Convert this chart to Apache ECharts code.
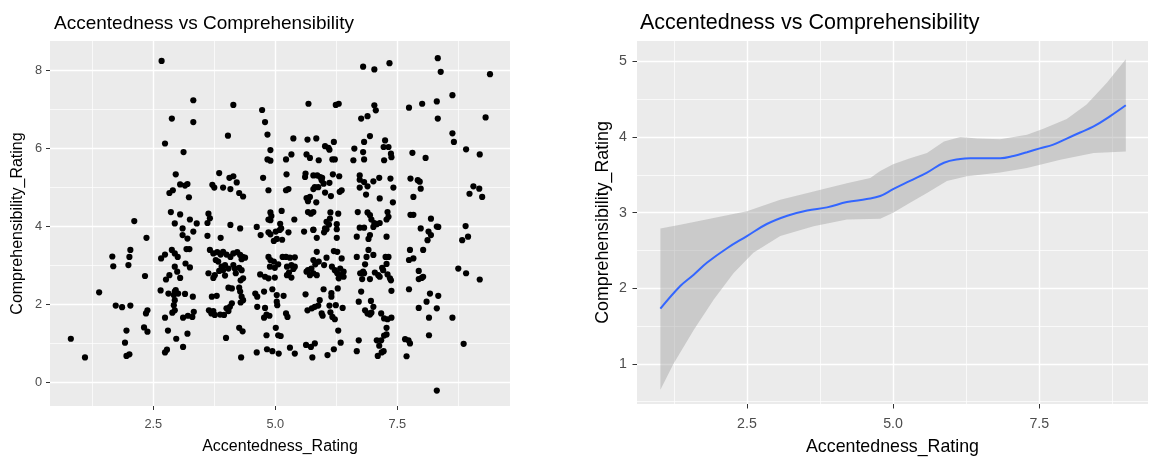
<!DOCTYPE html>
<html>
<head>
<meta charset="utf-8">
<script src="https://cdn.jsdelivr.net/npm/echarts@6/dist/echarts.min.js"></script>
<style>
html,body{margin:0;padding:0;background:#fff;}
#c{width:1149px;height:457px;}
</style>
</head>
<body>
<div id="c"></div>
<script>
const titleText = 'Accentedness vs Comprehensibility';
const xName = 'Accentedness_Rating';
const yName = 'Comprehensibility_Rating';
const xTicks = [2.5, 5.0, 7.5];
const xMinor = [1.25, 3.75, 6.25, 8.75];
const leftYTicks = [0, 2, 4, 6, 8];
const leftYMinor = [1, 3, 5, 7];
const rightYTicks = [1, 2, 3, 4, 5];
const rightYMinor = [0.5, 1.5, 2.5, 3.5, 4.5];

// scatter: [Accentedness_Rating, Comprehensibility_Rating]
const scatterPoints = [
[2.67,8.24],[3.32,7.23],[2.88,6.76],[3.32,6.67],[2.74,6.12],[3.12,5.9],[2.96,5.33],[3.05,5.07],[3.15,5.04],[3.2,5.08],[2.83,4.85],[2.9,4.92],[3.23,4.74],[2.86,4.36],[3.05,4.3],[2.11,4.13],[3.25,4.17],[3.39,4.07],[2.94,4.07],[3.1,3.94],
[4.14,7.11],[4.73,6.98],[4.79,6.67],[4.03,6.32],[4.84,6.35],[5.68,7.14],[6.24,7.11],[6.3,7.14],[5.37,6.25],[5.66,6.22],[5.84,6.25],[4.9,5.95],[5.33,5.84],[5.22,5.71],[4.84,5.71],[4.9,5.68],[5.64,5.84],[5.71,5.75],[5.89,5.69],[6.02,6.05],[6.09,6.01],[6.11,5.96],[6.2,6.16],[6.17,5.71],[6.22,5.71],[6.62,5.99],[6.6,5.69],[3.85,5.36],[4.06,5.24],[4.14,5.28],[4.21,5.12],[3.71,5.06],[3.75,4.99],[3.93,4.99],[4.08,4.95],[4.26,4.85],[4.34,4.76],[4.75,5.24],[4.86,4.92],[5.23,5.33],[5.22,4.92],[5.27,4.95],[5.61,5.26],[5.62,5.35],[5.78,5.3],[5.86,5.3],[5.92,5.26],[5.96,5.24],[5.81,5.0],[5.78,4.95],[5.88,5.0],[5.99,5.09],[5.95,5.18],[6.11,5.11],[6.18,5.33],[6.31,5.28],[6.02,4.86],[6.14,4.77],[6.36,4.92],[6.32,4.88],[5.64,4.72],[5.67,4.64],[5.71,4.75],[5.84,4.61],[5.67,4.36],[5.73,4.32],[5.78,4.36],[5.13,4.39],[4.9,4.35],[4.92,4.26],[4.86,4.17],[4.9,4.15],[5.39,4.17],[6.13,4.35],[6.29,4.32],[6.12,4.19],[6.05,4.11],[6.1,4.04],[6.26,4.05],[6.69,4.36],[3.63,4.32],[3.61,4.08],[3.66,4.2],[4.08,4.03],[4.28,3.94],[4.62,3.98],[5.1,4.06],[5.12,3.94],[5.78,3.91],[6.02,3.94],
[6.8,8.09],[7.03,8.02],[7.34,8.18],[8.33,8.31],[8.39,7.96],[9.4,7.9],[8.63,7.36],[8.31,7.2],[8.01,7.14],[7.74,7.04],[7.03,7.1],[7.06,6.97],[6.76,6.76],[6.89,6.82],[8.33,6.76],[9.31,6.79],[8.63,6.38],[8.66,6.16],[6.94,6.31],[6.82,6.16],[7.25,6.2],[7.22,6.03],[7.32,6.03],[7.37,5.86],[7.38,5.77],[6.8,5.9],[6.82,5.71],[7.23,5.69],[7.81,5.88],[8.08,5.75],[8.91,5.97],[9.19,5.84],[6.73,5.3],[6.73,5.19],[6.82,5.13],[6.89,5.02],[7.01,5.15],[6.73,4.99],[7.13,5.24],[7.36,5.22],[7.42,4.99],[6.86,4.81],[7.14,4.71],[7.41,4.61],[7.77,5.22],[7.92,5.18],[7.96,5.14],[7.98,4.96],[7.83,4.75],[9.06,5.02],[9.18,4.96],[8.98,4.83],[9.24,4.75],[6.89,4.35],[6.94,4.28],[6.97,4.17],[7.03,4.08],[7.08,4.05],[7.14,4.08],[7.01,3.98],[7.3,4.36],[7.32,4.24],[7.28,4.17],[7.77,4.29],[7.83,4.29],[8.19,4.19],[8.31,3.99],[8.34,3.98],[7.98,3.94],[8.9,4.0],[6.73,3.96],[6.82,3.96],
[2.36,3.7],[2.03,3.39],[2.01,3.21],[1.99,3.0],[1.66,3.22],[1.68,2.97],[2.33,2.72],[1.39,2.3],[1.73,1.96],[1.86,1.92],[2.03,1.96],[1.95,1.32],[1.92,1.01],[1.95,0.67],[2.01,0.71],[0.81,1.11],[1.1,0.63],[2.38,1.84],[2.35,1.76],[2.31,1.4],[2.38,1.29],[2.74,1.65],[2.8,1.32],[2.74,0.76],[2.78,0.83],[2.97,1.11],[3.11,0.9],[3.2,1.24],[2.65,2.35],[2.81,2.27],[2.94,2.32],[2.96,2.36],[2.92,2.23],[3.01,2.27],[3.15,2.26],[3.31,2.19],[2.94,2.1],[2.92,1.97],[2.89,1.78],[2.94,1.84],[3.11,1.65],[3.21,1.7],[3.3,1.67],[3.33,1.8],[2.76,2.63],[2.83,2.74],[2.94,2.96],[2.99,2.83],[3.05,2.67],[3.16,3.04],[3.25,2.94],[2.66,3.17],[2.74,3.27],[2.88,3.39],[2.94,3.3],[3.0,3.21],[3.18,3.41],[3.24,3.41],[3.1,3.77],[3.2,3.68],[3.32,3.86],
[3.61,3.75],[3.88,3.7],[4.7,3.77],[4.86,3.84],[4.9,3.79],[5.01,3.86],[5.09,3.9],[4.97,3.62],[5.03,3.67],[5.14,3.65],[5.27,3.84],[5.59,3.86],[5.78,3.9],[5.85,3.7],[6.0,3.84],[6.05,3.92],[6.26,3.7],[6.26,3.92],[6.67,3.73],
[3.66,3.39],[3.73,3.3],[3.81,3.33],[3.88,3.27],[3.93,3.34],[4.0,3.27],[4.08,3.21],[4.14,3.3],[4.22,3.33],[4.28,3.26],[4.33,3.21],[4.38,3.19],[4.31,3.15],[3.78,3.13],[3.83,3.09],
[3.9,2.96],[3.97,3.0],[4.04,2.91],[4.14,3.0],[4.17,2.91],[4.26,2.93],[3.85,2.85],[3.93,2.87],[4.31,2.87],
[3.63,2.79],[3.76,2.74],[3.73,2.67],[3.97,2.73],[4.19,2.79],[4.34,2.66],[4.29,2.61],
[4.86,3.21],[4.9,3.13],[4.97,3.09],[4.89,2.96],[4.99,2.93],[5.06,3.02],[5.15,3.21],[5.22,3.21],[5.3,3.19],[5.4,3.2],[5.33,3.0],[5.4,2.96],[5.24,2.96],[5.37,2.9],[5.28,2.81],[5.24,2.74],[5.33,2.68],
[4.69,2.76],[4.79,2.7],[4.86,2.66],[4.99,2.68],
[5.85,3.34],[5.89,3.09],[5.78,3.13],[5.82,3.02],[6.05,3.19],[6.0,3.0],[6.16,2.96],[6.22,2.87],[6.33,2.91],[6.36,3.17],[6.2,3.36],[6.27,3.34],[5.64,2.83],[5.71,2.74],[5.78,2.79],[5.85,2.74],[5.67,2.87],[5.74,2.91],
[6.27,2.79],[6.33,2.74],[6.4,2.7],[6.3,2.66],[6.4,2.83],[6.67,3.21],[6.74,2.79],
[4.04,2.42],[4.11,2.4],[4.26,2.42],[4.28,2.32],
[3.7,2.19],[3.8,2.21],[4.31,2.19],[4.34,2.1],[4.29,2.04],[4.11,2.02],[4.07,1.93],
[3.64,1.84],[3.69,1.76],[3.76,1.72],[3.73,1.82],[3.87,1.73],[3.95,1.72],[4.04,1.82],[4.0,1.89],
[4.59,2.27],[4.63,2.19],[4.77,2.32],[5.03,2.23],[5.17,2.21],[4.94,2.38],[5.03,2.06],[5.04,1.97],
[4.63,1.93],[4.79,1.9],[4.82,1.73],[4.77,1.65],[4.88,1.7],[5.22,1.76],[5.25,1.67],
[5.62,2.25],
[5.66,1.84],[5.75,1.89],[5.81,1.93],[5.88,1.96],[5.91,2.1],[5.95,1.76],[5.97,1.7],[6.11,1.96],[6.13,1.79],[6.17,1.67],[6.22,1.61],[6.24,1.97],[6.38,1.9],[6.15,2.19],[6.15,2.28],[5.99,2.38],[6.28,2.4],
[4.26,1.39],[4.33,1.3],[3.99,1.13],
[5.01,1.39],[5.06,1.2],[5.11,1.18],[4.82,1.2],
[6.29,1.32],[6.34,1.01],
[4.62,0.76],[4.83,0.84],[4.94,0.79],[5.07,0.73],[5.3,0.88],[5.4,0.73],
[5.63,0.95],[5.73,0.9],[5.81,0.99],[5.76,0.63],[6.07,0.69],[6.2,0.84],
[4.3,0.63],
[7.28,3.73],[6.91,3.67],[6.94,3.77],[8.14,3.86],[8.19,3.77],[8.12,3.64],[8.95,3.73],[8.83,3.64],
[7.76,3.39],[7.74,3.13],[7.83,3.17],[8.03,3.39],
[6.91,3.39],[6.87,3.21],[7.01,3.26],[7.26,3.21],[7.32,3.21],[7.28,3.03],
[6.84,3.02],[6.8,2.83],
[6.82,2.79],[6.78,2.64],[6.94,2.64],[7.04,2.81],[7.11,2.74],[7.14,2.7],[7.21,2.87],[7.19,2.93],[7.3,2.76],[7.35,2.66],[7.37,2.61],
[7.94,2.85],[7.94,2.64],[8.0,2.67],[8.03,2.7],
[8.75,2.91],[8.91,2.79],[9.19,2.63],
[7.38,2.34],[7.74,2.38],[6.76,2.32],[6.71,2.06],[6.96,2.08],[7.01,1.93],
[6.84,1.84],[6.89,1.76],[6.94,1.73],[6.97,1.78],[7.17,1.76],
[7.23,1.63],[7.3,1.61],[7.38,1.65],
[7.28,1.39],[7.28,1.22],[7.23,1.19],
[7.08,1.07],[7.17,1.07],[7.13,0.93],[7.22,0.79],[7.1,0.67],[7.18,0.76],
[6.71,1.07],[6.67,0.79],
[8.17,2.27],[8.1,2.06],[8.34,2.21],[8.31,1.89],[7.94,1.9],[8.15,1.65],[8.63,1.65],
[7.66,1.1],[7.73,1.07],[7.76,0.99],[7.69,0.66],
[8.15,1.2],[8.86,0.98],[8.31,-0.22]
];

// loess fit and its confidence band
const fitLine = [[1.02,1.73],[1.36,2.03],[1.59,2.18],[1.82,2.34],[2.16,2.53],[2.5,2.69],[2.84,2.85],[3.19,2.96],[3.53,3.03],[3.87,3.07],[4.21,3.14],[4.55,3.18],[4.78,3.22],[5.0,3.31],[5.29,3.42],[5.58,3.53],[5.87,3.66],[6.15,3.71],[6.32,3.72],[6.83,3.72],[7.06,3.75],[7.29,3.80],[7.51,3.85],[7.74,3.90],[7.97,3.98],[8.2,4.06],[8.43,4.14],[8.72,4.28],[8.98,4.42]];
const bandUpper = [[1.02,2.79],[1.36,2.84],[1.93,2.93],[2.5,3.02],[3.07,3.17],[3.64,3.28],[4.21,3.39],[4.61,3.46],[4.78,3.55],[5.0,3.64],[5.29,3.72],[5.58,3.79],[5.87,3.94],[6.15,4.0],[6.44,3.98],[6.83,3.97],[7.29,4.03],[7.57,4.11],[7.97,4.24],[8.31,4.43],[8.66,4.72],[8.98,5.03]];
const bandLower = [[1.02,0.66],[1.25,1.01],[1.59,1.45],[1.93,1.85],[2.27,2.2],[2.61,2.47],[3.07,2.69],[3.64,2.82],[4.21,2.91],[4.78,2.92],[5.0,3.0],[5.29,3.13],[5.58,3.26],[5.92,3.42],[6.26,3.48],[6.83,3.53],[7.29,3.59],[7.86,3.70],[8.43,3.79],[8.98,3.81]];

const FONT = 'Liberation Sans, Arial, sans-serif';

function gridLines(idx, xMaj, xMin, yMaj, yMin) {
  const d = [];
  xMin.forEach(v => d.push({xAxis: v, lineStyle: {width: 0.7}}));
  yMin.forEach(v => d.push({yAxis: v, lineStyle: {width: 0.7}}));
  xMaj.forEach(v => d.push({xAxis: v, lineStyle: {width: 1.4}}));
  yMaj.forEach(v => d.push({yAxis: v, lineStyle: {width: 1.4}}));
  return {
    type: 'line', xAxisIndex: idx, yAxisIndex: idx, data: [], silent: true, z: 0,
    markLine: {
      silent: true, symbol: 'none', animation: false, z: 0, zlevel: 0,
      label: {show: false},
      lineStyle: {color: '#ffffff', type: 'solid', opacity: 1},
      emphasis: {disabled: true},
      data: d
    }
  };
}

function xAxisCfg(idx, min, max, fs, nameFs, margin, nameGap, tickLen) {
  return {
    type: 'value', gridIndex: idx, min: min, max: max, position: 'bottom',
    name: xName, nameLocation: 'middle', nameGap: nameGap,
    nameTextStyle: {color: '#000', fontSize: nameFs, fontFamily: FONT},
    axisLine: {show: false, onZero: false},
    splitLine: {show: false},
    axisTick: {show: true, customValues: xTicks, length: tickLen, lineStyle: {color: '#333333', width: 1}},
    axisLabel: {customValues: xTicks, color: '#4d4d4d', fontSize: fs, fontFamily: FONT, margin: margin,
      formatter: v => Number(v).toFixed(1)}
  };
}
function yAxisCfg(idx, min, max, ticks, fs, nameFs, margin, nameGap, tickLen) {
  return {
    type: 'value', gridIndex: idx, min: min, max: max, position: 'left',
    name: yName, nameLocation: 'middle', nameGap: nameGap, nameRotate: 90,
    nameTextStyle: {color: '#000', fontSize: nameFs, fontFamily: FONT},
    axisLine: {show: false, onZero: false},
    splitLine: {show: false},
    axisTick: {show: true, customValues: ticks, length: tickLen, lineStyle: {color: '#333333', width: 1}},
    axisLabel: {customValues: ticks, color: '#4d4d4d', fontSize: fs, fontFamily: FONT, margin: margin,
      formatter: v => String(Number(v))}
  };
}

const chart = echarts.init(document.getElementById('c'), null, {renderer: 'canvas'});
chart.setOption({
  animation: false,
  backgroundColor: '#ffffff',
  title: [
    {text: titleText, left: 49, top: 9, textStyle: {fontSize: 19, fontWeight: 'normal', color: '#000', fontFamily: FONT}},
    {text: titleText, left: 635, top: 7, textStyle: {fontSize: 21.5, fontWeight: 'normal', color: '#000', fontFamily: FONT}}
  ],
  grid: [
    {left: 50, top: 41, width: 460, height: 365, show: true, backgroundColor: '#EBEBEB', borderWidth: 0, containLabel: false, outerBoundsMode: 'none'},
    {left: 637, top: 41, width: 511, height: 363, show: true, backgroundColor: '#EBEBEB', borderWidth: 0, containLabel: false, outerBoundsMode: 'none'}
  ],
  xAxis: [
    xAxisCfg(0, 0.383, 9.81, 12.8, 16, 12, 33, 4),
    xAxisCfg(1, 0.62, 9.36, 14.2, 17.8, 13, 34, 4.5)
  ],
  yAxis: [
    yAxisCfg(0, -0.616, 8.75, leftYTicks, 12.8, 16, 8, 24, 4),
    yAxisCfg(1, 0.47, 5.27, rightYTicks, 14.2, 17.8, 10, 25, 4.5)
  ],
  series: [
    gridLines(0, xTicks, xMinor, leftYTicks, leftYMinor),
    gridLines(1, xTicks, xMinor, rightYTicks, rightYMinor),
    {
      type: 'scatter', xAxisIndex: 0, yAxisIndex: 0, z: 5,
      symbol: 'circle', symbolSize: 6.2,
      itemStyle: {color: '#000000', opacity: 1},
      data: scatterPoints
    },
    {
      type: 'custom', xAxisIndex: 1, yAxisIndex: 1, z: 4, silent: true,
      data: [bandUpper[0]],
      renderItem: function (params, api) {
        if (params.dataIndex !== 0) return null;
        const pts = [];
        bandUpper.forEach(p => pts.push(api.coord(p)));
        bandLower.slice().reverse().forEach(p => pts.push(api.coord(p)));
        return {type: 'polygon', shape: {points: pts}, style: {fill: 'rgba(153,153,153,0.4)'}};
      }
    },
    {
      type: 'line', xAxisIndex: 1, yAxisIndex: 1, z: 5,
      data: fitLine, smooth: 0.4, showSymbol: false, symbol: 'none',
      lineStyle: {color: '#3366FF', width: 2}
    }
  ]
});
</script>
</body>
</html>
